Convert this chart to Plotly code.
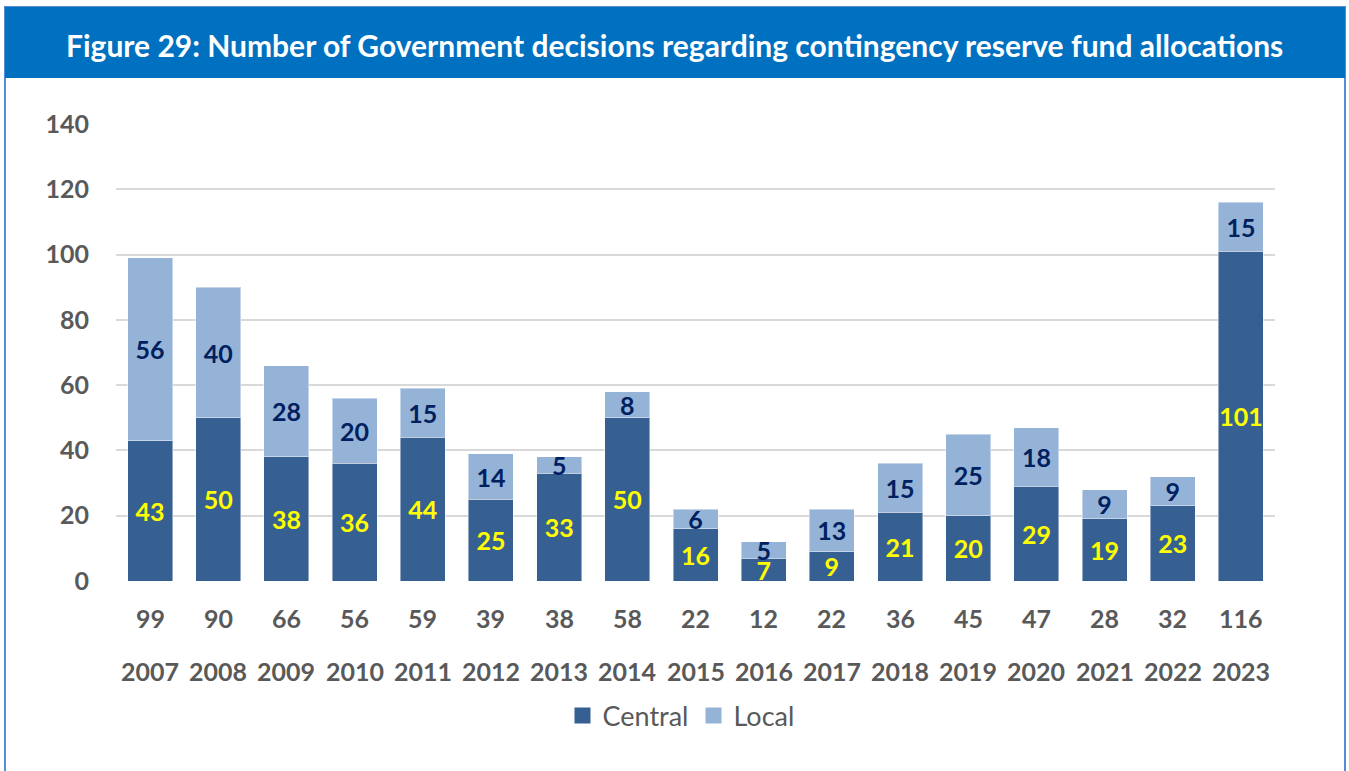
import plotly.graph_objects as go

# Contingency reserve fund allocations: number of Government decisions per year
years = ["2007", "2008", "2009", "2010", "2011", "2012", "2013", "2014", "2015",
         "2016", "2017", "2018", "2019", "2020", "2021", "2022", "2023"]
central = [43, 50, 38, 36, 44, 25, 33, 50, 16, 7, 9, 21, 20, 29, 19, 23, 101]
local = [56, 40, 28, 20, 15, 14, 5, 8, 6, 5, 13, 15, 25, 18, 9, 9, 15]
totals = [c + l for c, l in zip(central, local)]
y_ticks = [0, 20, 40, 60, 80, 100, 120, 140]

title_text = "Figure 29: Number of Government decisions regarding contingency reserve fund allocations"

FONT = "Lato"
GRAY = "#595959"
CENTRAL_COLOR = "#376092"
LOCAL_COLOR = "#95B3D7"
BANNER = "#0070C0"
FRAME = "#558ED5"

W, H = 1349, 771
L, R, T, B = 116, 74, 124, 190
pw, ph = W - L - R, H - T - B


def px_x(x):
    return (x - L) / pw


def px_y(y):
    return (H - B - y) / ph


fig = go.Figure()
bar_line = dict(color="rgba(255,255,255,0.45)", width=1)
fig.add_trace(go.Bar(
    name="Central", x=years, y=central, showlegend=False,
    marker=dict(color=CENTRAL_COLOR, line=bar_line),
    text=[str(v) for v in central], textposition="inside", insidetextanchor="middle",
    textangle=0, constraintext="none", cliponaxis=False,
    textfont=dict(family=FONT, size=25, color="#FFFF00", weight="bold"),
    hoverinfo="skip",
))
fig.add_trace(go.Bar(
    name="Local", x=years, y=local, showlegend=False,
    marker=dict(color=LOCAL_COLOR, line=bar_line),
    text=[str(v) for v in local], textposition="inside", insidetextanchor="middle",
    textangle=0, constraintext="none", cliponaxis=False,
    textfont=dict(family=FONT, size=25, color="#002060", weight="bold"),
    hoverinfo="skip",
))
# legend entries with larger square swatches
for name, color in (("Central", CENTRAL_COLOR), ("Local", LOCAL_COLOR)):
    fig.add_trace(go.Scatter(
        name=name, x=[None], y=[None], mode="markers",
        marker=dict(symbol="square", size=17, color=color), hoverinfo="skip",
    ))

annotations = []
# totals row and year row under the axis
for i, (yr, tot) in enumerate(zip(years, totals)):
    annotations.append(dict(x=i, y=px_y(618), xref="x", yref="paper", text=str(tot),
                            showarrow=False, yanchor="middle",
                            font=dict(family=FONT, size=25, color=GRAY, weight="bold")))
    annotations.append(dict(x=i, y=px_y(671), xref="x", yref="paper", text=yr,
                            showarrow=False, yanchor="middle",
                            font=dict(family=FONT, size=25, color=GRAY, weight="bold")))

# banner title
annotations.append(dict(x=px_x(674.5), y=px_y(45), xref="paper", yref="paper", text=title_text,
                        showarrow=False, xanchor="center", yanchor="middle",
                        font=dict(family=FONT, size=30, color="white", weight="bold")))

shapes = [
    # outer frame
    dict(type="rect", xref="paper", yref="paper", x0=px_x(5), x1=px_x(1345),
         y0=px_y(776), y1=px_y(7), line=dict(color=FRAME, width=2), fillcolor="rgba(0,0,0,0)",
         layer="below"),
    # title banner
    dict(type="rect", xref="paper", yref="paper", x0=px_x(5), x1=px_x(1345),
         y0=px_y(78), y1=px_y(7), line=dict(width=0), fillcolor=BANNER, layer="below"),
]

fig.update_layout(
    width=W, height=H,
    margin=dict(l=L, r=R, t=T, b=B, pad=0),
    barmode="stack", bargap=0.34,
    plot_bgcolor="white", paper_bgcolor="white",
    font=dict(family=FONT, color=GRAY),
    showlegend=True,
    legend=dict(orientation="h", x=px_x(681), xanchor="center", y=px_y(716), yanchor="middle",
                font=dict(family=FONT, size=27, color=GRAY), traceorder="normal",
                itemwidth=30, bgcolor="rgba(0,0,0,0)"),
    annotations=annotations,
    shapes=shapes,
    xaxis=dict(type="category", showticklabels=False, showgrid=False, zeroline=False,
               showline=False, ticks="", range=[-0.5, len(years) - 0.5]),
    yaxis=dict(range=[0, 140], tickvals=y_ticks, showgrid=True, gridcolor="#D9D9D9",
               gridwidth=2, zeroline=False, showline=False, ticks="",
               ticklabelstandoff=26,
               tickfont=dict(family=FONT, size=25, color=GRAY, weight="bold")),
)

fig.write_html("out.html")
